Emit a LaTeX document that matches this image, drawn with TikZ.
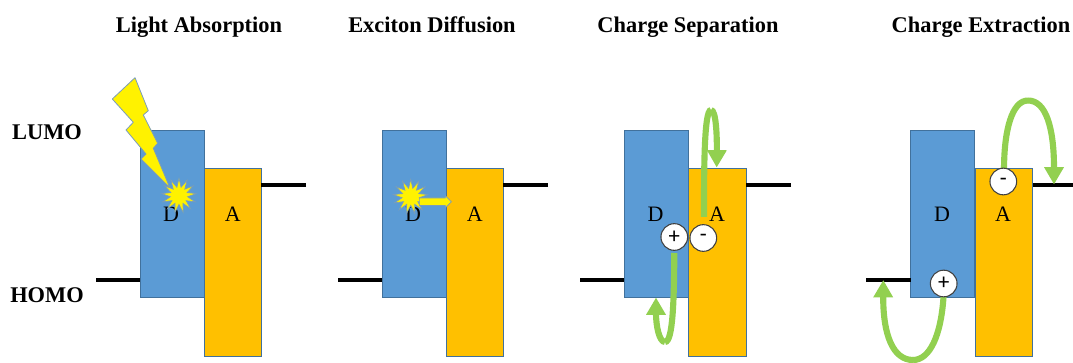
\documentclass[tikz,border=0pt]{standalone}
\usepackage{fontspec}
\setmainfont{Liberation Serif}
\newfontfamily\chargefont{Carlito}
\usetikzlibrary{arrows.meta,shapes.geometric,shapes.arrows}
\definecolor{donor}{HTML}{5B9BD5}
\definecolor{acceptor}{HTML}{FFC000}
\definecolor{edgeblue}{HTML}{41719C}
\definecolor{hop}{HTML}{92D050}
\tikzset{
    dbox/.style={draw=edgeblue,line width=0.7pt,fill=donor,minimum width=48pt,minimum height=125pt,inner sep=0pt,outer sep=0pt},
    abox/.style={draw=edgeblue,line width=0.7pt,fill=acceptor,minimum width=43pt,minimum height=141pt,inner sep=0pt,outer sep=0pt},
    title/.style={anchor=base,font=\fontsize{16.8}{20}\selectfont\bfseries},
    letter/.style={anchor=base,font=\fontsize{16.5}{20}\selectfont},
    levelline/.style={line width=2.7pt,draw=black},
    hopline/.style={draw=hop,line width=4.6pt},
    hoparrow/.style={hopline,-{Triangle[width=14pt,length=13pt]}},
    charge/.style={circle,draw=black!75,line width=0.8pt,fill=white,minimum size=20pt,inner sep=0pt,font=\chargefont\fontsize{17}{20}\selectfont},
    flash/.style={star,star points=13,star point ratio=2,draw=edgeblue!70,line width=0.5pt,fill=yellow,minimum size=26pt,inner sep=0pt}
}
\begin{document}
\begin{tikzpicture}[x=0.75pt,y=-0.75pt]
            \useasboundingbox (0,0) rectangle (1073,363);

            % headings
            \node[title] (t1) at (199,33) {Light Absorption};
            \node[title] (t2) at (432,33) {Exciton Diffusion};
            \node[title] (t3) at (688,33) {Charge Separation};
            \node[title] (t4) at (981,33) {Charge Extraction};
            \node[title] (lumo) at (47,139.5) {LUMO};
            \node[title] (homo) at (47,302) {HOMO};

            % bands
            \node[dbox] (d1) at (172,213.7) {};
            \node[abox] (a1) at (232.7,262.5) {};
            \node[dbox] (d2) at (414,213.7) {};
            \node[abox] (a2) at (474.7,262.5) {};
            \node[dbox] (d3) at (656.3,213.7) {};
            \node[abox] (a3) at (717.5,262.5) {};
            \node[dbox] (d4) at (942.5,213.7) {};
            \node[abox] (a4) at (1004.2,262.5) {};

            \node[letter] (ld1) at (171,222) {D};
            \node[letter] (la1) at (232.7,222) {A};
            \node[letter] (ld2) at (413,222) {D};
            \node[letter] (la2) at (474.7,222) {A};
            \node[letter] (ld3) at (655.5,222) {D};
            \node[letter] (la3) at (717,222) {A};
            \node[letter] (ld4) at (942,222) {D};
            \node[letter] (la4) at (1003,222) {A};

            % levels
            \coordinate (e1) at (306,185);
            \coordinate (e2) at (548,185);
            \coordinate (e3) at (791,185);
            \coordinate (e4) at (1073,185);
            \coordinate (h1) at (96,280);
            \coordinate (h2) at (338,280);
            \coordinate (h3) at (580,280);
            \coordinate (h4) at (866,280);

            \draw[levelline] (e1) -- (e1 -| a1.east);
            \draw[levelline] (e2) -- (e2 -| a2.east);
            \draw[levelline] (e3) -- (e3 -| a3.east);
            \draw[levelline] (e4) -- (e4 -| a4.east);
            \draw[levelline] (h1) -- (h1 -| d1.west);
            \draw[levelline] (h2) -- (h2 -| d2.west);
            \draw[levelline] (h3) -- (h3 -| d3.west);
            \draw[levelline] (h4) -- (h4 -| d4.west);

            % light
            \draw[draw=edgeblue!70,line width=0.6pt,fill=yellow,line join=round] (135,77.7) -- (148.3,110.7) -- (143.3,115) -- (157.7,143.3) -- (153.3,148.3) -- (170,188) -- (141,159) -- (146,154) -- (126,130) -- (133.3,122.3) -- (112.3,99) -- cycle;
            \node[flash] (s1) at (179,195.7) {};

            % exciton
            \node[flash] (s2) at (410.7,196.7) {};
            \node[single arrow,draw=edgeblue!70,line width=0.5pt,fill=yellow,minimum height=24pt,minimum width=9pt,single arrow head extend=1.5pt,inner sep=2.2pt] (x2) at (433.5,201.7) {};

            % hops
            \coordinate (p3) at (674.3,253);
            \coordinate (p3b) at (665,342);
            \coordinate (p3t) at (656,297.5);
            \coordinate (m3) at (704,217);
            \coordinate (m3b) at (711,110);
            \coordinate (m3t) at (716.7,167.5);
            \coordinate (p4) at (943.5,297);
            \coordinate (p4b) at (913,360);
            \coordinate (p4t) at (883.3,280);
            \coordinate (m4) at (1004,170);
            \coordinate (m4b) at (1028,100.5);
            \coordinate (m4t) at (1054,184.5);

            \draw[hopline] (p3) .. controls (674,300) and (673,342) .. (p3b);
            \draw[hoparrow] (p3b) .. controls (659,342) and (656,325) .. (p3t);
            \draw[hopline] (m3) .. controls (704,170) and (704,110) .. (m3b);
            \draw[hoparrow] (m3b) .. controls (716,110) and (717,135) .. (m3t);
            \draw[hopline] (p4) .. controls (941,335) and (930,360) .. (p4b);
            \draw[hoparrow] (p4b) .. controls (893,360) and (883,335) .. (p4t);
            \draw[hopline] (m4) .. controls (1004,130) and (1012,100.5) .. (m4b);
            \draw[hoparrow] (m4b) .. controls (1046,100.5) and (1054,128) .. (m4t);

            % charges
            \node[charge] (c3p) at (674.3,237) {+};
            \node[charge] (c3m) at (703.3,238) {-};
            \node[charge] (c4m) at (1003.3,181.5) {-};
            \node[charge] (c4p) at (943.7,283.5) {+};
        \end{tikzpicture}
\end{document}
